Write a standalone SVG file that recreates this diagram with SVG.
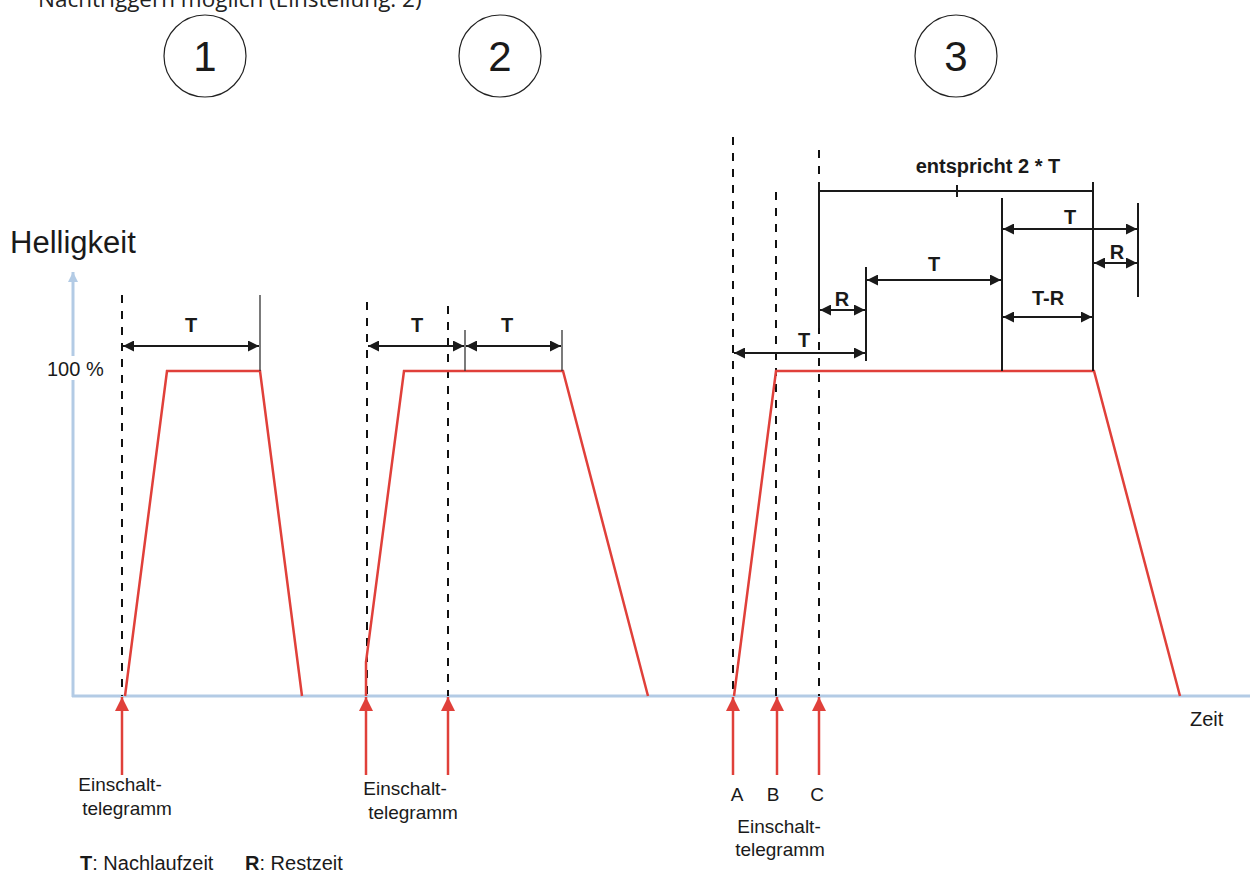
<svg xmlns="http://www.w3.org/2000/svg" width="1250" height="873" viewBox="0 0 1250 873">
<style>
text{font-family:"Liberation Sans",Arial,sans-serif;fill:#1a1a1a}
.b{font-weight:bold;font-size:20px}
.n{font-size:20px}
.e{font-size:19px}
.red{stroke:#e0403a;stroke-width:2.5;fill:none}
.dash{stroke:#111;stroke-width:2;stroke-dasharray:8 8;fill:none}
.dim{stroke:#1a1a1a;stroke-width:2.2;fill:none}
.tick{stroke:#1a1a1a;stroke-width:2;fill:none}
.thin{stroke:#333;stroke-width:1.3;fill:none}
.ax{stroke:#b3cbe5;stroke-width:3;fill:none}
.circ{fill:none;stroke:#222;stroke-width:1.2}
</style>
<defs>
<marker id="ah" viewBox="0 0 10 10" refX="10" refY="5" markerWidth="11" markerHeight="11" markerUnits="userSpaceOnUse" orient="auto-start-reverse"><path d="M0,0 L10,5 L0,10 z" fill="#1a1a1a"/></marker>
<marker id="rh" viewBox="0 0 10 10" refX="10" refY="5" markerWidth="16" markerHeight="14" markerUnits="userSpaceOnUse" orient="auto"><path d="M0,0 L10,5 L0,10 z" fill="#e0403a"/></marker>
<marker id="axh" viewBox="0 0 10 10" refX="10" refY="5" markerWidth="12" markerHeight="10" markerUnits="userSpaceOnUse" orient="auto"><path d="M0,0 L10,5 L0,10 z" fill="#b3cbe5"/></marker>
</defs>
<rect width="1250" height="873" fill="#fff"/>

<text x="38" y="7" style="font-family:'Open Sans','Liberation Sans',sans-serif;font-size:22.5px;fill:#222">Nachtriggern möglich (Einstellung: 2)</text>

<g id="circle1"><circle class="circ" cx="205" cy="56" r="41"/><text x="205" y="71" text-anchor="middle" style="font-size:42px">1</text></g>
<g id="circle2"><circle class="circ" cx="500" cy="56" r="41"/><text x="500" y="71" text-anchor="middle" style="font-size:42px">2</text></g>
<g id="circle3"><circle class="circ" cx="956" cy="56" r="41"/><text x="956" y="71" text-anchor="middle" style="font-size:42px">3</text></g>

<g id="axes">
<line class="ax" x1="73" y1="697" x2="73" y2="272" marker-end="url(#axh)"/>
<line class="ax" x1="72" y1="696" x2="1250" y2="696"/>
<text x="10" y="253" style="font-size:31px">Helligkeit</text>
<rect x="44" y="356" width="66" height="24" fill="#fff"/>
<text x="47" y="376" class="n">100 %</text>
<text x="1190" y="726" class="n">Zeit</text>
</g>

<g id="connectors">
<line class="dash" x1="122" y1="295" x2="122" y2="696"/>
<line class="dash" x1="367" y1="302" x2="367" y2="696"/>
<line class="dash" x1="448" y1="306" x2="448" y2="696"/>
<line class="dash" x1="733" y1="137" x2="733" y2="696"/>
<line class="dash" x1="776" y1="192" x2="776" y2="696"/>
<line class="dash" x1="819" y1="150" x2="819" y2="696"/>

<polyline class="red" points="125,696 167,371 260,371 302,696"/>
<polyline class="red" points="366,696 366,662 404,371 563,371 648,696"/>
<polyline class="red" points="734,696 776,371 1094,371 1180,696"/>

<line class="thin" x1="260" y1="295" x2="260" y2="371"/>
<line class="thin" x1="465" y1="330" x2="465" y2="371"/>
<line class="thin" x1="562" y1="330" x2="562" y2="371"/>
<line class="tick" x1="819" y1="182" x2="819" y2="328"/>
<line class="tick" x1="1093" y1="182" x2="1093" y2="371"/>
<line class="tick" x1="957" y1="185" x2="957" y2="197"/>
<line class="tick" x1="1002" y1="198" x2="1002" y2="371"/>
<line class="tick" x1="1138" y1="203" x2="1138" y2="297"/>
<line class="tick" x1="866" y1="267" x2="866" y2="361"/>

<line class="dim" x1="123" y1="346" x2="259" y2="346" marker-start="url(#ah)" marker-end="url(#ah)"/>
<line class="dim" x1="368" y1="346" x2="464" y2="346" marker-start="url(#ah)" marker-end="url(#ah)"/>
<line class="dim" x1="466" y1="346" x2="561" y2="346" marker-start="url(#ah)" marker-end="url(#ah)"/>
<line class="dim" x1="819" y1="191" x2="1093" y2="191"/>
<line class="dim" x1="1003" y1="229" x2="1137" y2="229" marker-start="url(#ah)" marker-end="url(#ah)"/>
<line class="dim" x1="1094" y1="263" x2="1137" y2="263" marker-start="url(#ah)" marker-end="url(#ah)"/>
<line class="dim" x1="867" y1="280" x2="1001" y2="280" marker-start="url(#ah)" marker-end="url(#ah)"/>
<line class="dim" x1="820" y1="310" x2="865" y2="310" marker-start="url(#ah)" marker-end="url(#ah)"/>
<line class="dim" x1="1003" y1="317" x2="1092" y2="317" marker-start="url(#ah)" marker-end="url(#ah)"/>
<line class="dim" x1="734" y1="353" x2="865" y2="353" marker-start="url(#ah)" marker-end="url(#ah)"/>

<line class="red" x1="122" y1="775" x2="122" y2="697" marker-end="url(#rh)"/>
<line class="red" x1="366" y1="775" x2="366" y2="697" marker-end="url(#rh)"/>
<line class="red" x1="448" y1="775" x2="448" y2="697" marker-end="url(#rh)"/>
<line class="red" x1="733" y1="775" x2="733" y2="697" marker-end="url(#rh)"/>
<line class="red" x1="777" y1="775" x2="777" y2="697" marker-end="url(#rh)"/>
<line class="red" x1="819" y1="775" x2="819" y2="697" marker-end="url(#rh)"/>
</g>

<g id="labels">
<text x="191" y="332" class="b" text-anchor="middle">T</text>
<text x="417" y="332" class="b" text-anchor="middle">T</text>
<text x="507" y="332" class="b" text-anchor="middle">T</text>
<text x="988" y="173" class="b" text-anchor="middle">entspricht 2 * T</text>
<text x="1070" y="224" class="b" text-anchor="middle">T</text>
<text x="1117" y="259" class="b" text-anchor="middle">R</text>
<text x="934" y="271" class="b" text-anchor="middle">T</text>
<text x="842" y="306" class="b" text-anchor="middle">R</text>
<text x="1048" y="305" class="b" text-anchor="middle">T-R</text>
<text x="804" y="347" class="b" text-anchor="middle">T</text>

<text x="120" y="791" class="e" text-anchor="middle">Einschalt-</text>
<text x="127" y="815" class="e" text-anchor="middle">telegramm</text>
<text x="405" y="795" class="e" text-anchor="middle">Einschalt-</text>
<text x="413" y="819" class="e" text-anchor="middle">telegramm</text>
<text x="737" y="801" class="e" text-anchor="middle">A</text>
<text x="773" y="801" class="e" text-anchor="middle">B</text>
<text x="817" y="801" class="e" text-anchor="middle">C</text>
<text x="779" y="833" class="e" text-anchor="middle">Einschalt-</text>
<text x="780" y="856" class="e" text-anchor="middle">telegramm</text>

<text x="80" y="870" class="n"><tspan font-weight="bold">T</tspan>: Nachlaufzeit</text>
<text x="245" y="870" class="n"><tspan font-weight="bold">R</tspan>: Restzeit</text>
</g>
</svg>
